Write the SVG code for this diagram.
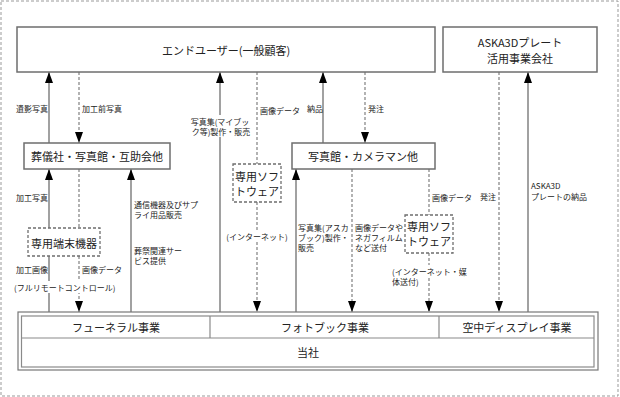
<svg xmlns="http://www.w3.org/2000/svg" width="620" height="397" viewBox="0 0 620 397">
<defs>
<style>
.frame{fill:none;stroke:#999;stroke-width:1;stroke-dasharray:3 2}
.box{fill:#fff;stroke:#6e6e6e;stroke-width:1.5}
.dbox{fill:#fff;stroke:#6e6e6e;stroke-width:1.3;stroke-dasharray:3 2}
.solid{fill:none;stroke:#8a8a8a;stroke-width:1.6}
.dash{fill:none;stroke:#8a8a8a;stroke-width:1.3;stroke-dasharray:3 2}
.inner{fill:none;stroke:#8a8a8a;stroke-width:1.2}
text{font-family:"Noto Sans CJK JP","Noto Sans",sans-serif;fill:#222;dominant-baseline:central}
.big{font-size:11px}
.sm{font-size:8px}
.c{text-anchor:middle}
.e{text-anchor:end}
.bg{fill:#fff}
</style>
<marker id="ah" viewBox="0 0 11 8" refX="11" refY="4" markerWidth="11" markerHeight="8" markerUnits="userSpaceOnUse" orient="auto">
<path d="M0,0 L11,4 L0,8 z" fill="#000"/>
</marker>
</defs>
<rect class="frame" x="1" y="1" width="617" height="395"/>

<g id="connectors">
<path class="solid" d="M49,143 V72" marker-end="url(#ah)"/>
<path class="dash" d="M79,72 V143" marker-end="url(#ah)"/>
<path class="solid" d="M220,312 V72" marker-end="url(#ah)"/>
<path class="dash" d="M257,72 V164"/>
<path class="dash" d="M257,202 V312" marker-end="url(#ah)"/>
<path class="solid" d="M323,143 V72" marker-end="url(#ah)"/>
<path class="dash" d="M365,72 V143" marker-end="url(#ah)"/>
<path class="dash" d="M499,72 V312" marker-end="url(#ah)"/>
<path class="solid" d="M528,312 V72" marker-end="url(#ah)"/>
<path class="solid" d="M49,228 V169" marker-end="url(#ah)"/>
<path class="dash" d="M79,169 V228"/>
<path class="solid" d="M49,312 V256"/>
<path class="dash" d="M79,256 V312" marker-end="url(#ah)"/>
<path class="solid" d="M131,312 V169" marker-end="url(#ah)"/>
<path class="solid" d="M296,312 V169" marker-end="url(#ah)"/>
<path class="dash" d="M352,169 V312" marker-end="url(#ah)"/>
<path class="dash" d="M429,169 V215"/>
<path class="dash" d="M429,253 V312" marker-end="url(#ah)"/>
</g>

<g id="connector-labels" class="sm">
<text class="sm" x="16" y="108">遺影写真</text>
<text class="sm" x="82" y="108">加工前写真</text>
<rect class="bg" x="189" y="115" width="62" height="22"/>
<text class="sm c" x="220" y="121">写真集(マイブッ</text>
<text class="sm c" x="221" y="131">ク等)製作・販売</text>
<text class="sm" x="260" y="110">画像データ</text>
<text class="sm" x="307" y="108">納品</text>
<text class="sm" x="368" y="108">発注</text>
<rect class="bg" x="226" y="230" width="64" height="12"/>
<text class="sm c" x="257" y="236">(インターネット)</text>
<text class="sm e" x="496" y="196">発注</text>
<text class="sm" x="531" y="185">ASKA3D</text>
<text class="sm" x="531" y="196">プレートの納品</text>
<text class="sm" x="16" y="197">加工写真</text>
<text class="sm" x="16" y="269">加工画像</text>
<text class="sm" x="82" y="269">画像データ</text>
<rect class="bg" x="13" y="281" width="104" height="12"/>
<text class="sm" x="14" y="287">(フルリモートコントロール)</text>
<text class="sm" x="134" y="204">通信機器及びサプ</text>
<text class="sm" x="134" y="214">ライ用品販売</text>
<text class="sm" x="134" y="250">葬祭関連サー</text>
<text class="sm" x="134" y="260">ビス提供</text>
<text class="sm" x="298" y="227">写真集(アスカ</text>
<text class="sm" x="298" y="237">ブック)製作・</text>
<text class="sm" x="298" y="247">販売</text>
<text class="sm" x="355" y="227">画像データや</text>
<text class="sm" x="355" y="237">ネガフィルム</text>
<text class="sm" x="355" y="247">など送付</text>
<text class="sm" x="432" y="197">画像データ</text>
<rect class="bg" x="391" y="265" width="78" height="12"/>
<text class="sm" x="392" y="271">(インターネット・媒</text>
<text class="sm" x="392" y="281">体送付)</text>
</g>

<g id="end-user">
<rect class="box" x="17" y="27" width="418" height="45"/>
<text class="big c" x="226" y="50">エンドユーザー(一般顧客)</text>
</g>
<g id="aska-company">
<rect class="box" x="443" y="27" width="154" height="45"/>
<text class="big c"><tspan x="520" y="42">ASKA3Dプレート</tspan><tspan x="520" y="58">活用事業会社</tspan></text>
</g>
<g id="funeral-partners">
<rect class="box" x="24" y="143" width="146" height="26"/>
<text class="big c" x="97" y="156">葬儀社・写真館・互助会他</text>
</g>
<g id="photo-studios">
<rect class="box" x="292" y="143" width="143" height="26"/>
<text class="big c" x="363" y="156">写真館・カメラマン他</text>
</g>
<g id="terminal">
<rect class="dbox" x="28" y="228" width="72" height="28"/>
<text class="big c" x="64" y="243">専用端末機器</text>
</g>
<g id="software-1">
<rect class="dbox" x="233" y="164" width="48" height="38"/>
<text class="big c"><tspan x="257" y="176">専用ソフ</tspan><tspan x="257" y="191">トウェア</tspan></text>
</g>
<g id="software-2">
<rect class="dbox" x="405" y="215" width="48" height="38"/>
<text class="big c"><tspan x="429" y="226">専用ソフ</tspan><tspan x="429" y="241">トウェア</tspan></text>
</g>
<g id="company">
<rect x="18" y="312" width="580" height="58" fill="#fff" stroke="#777" stroke-width="1.2"/>
<rect class="inner" x="21.5" y="316" width="572.5" height="51"/>
<path class="inner" d="M21.5,338 H594 M210,316 V338 M439,316 V338"/>
<text class="big c" x="116" y="327">フューネラル事業</text>
<text class="big c" x="325" y="327">フォトブック事業</text>
<text class="big c" x="517" y="327">空中ディスプレイ事業</text>
<text class="big c" x="308" y="352">当社</text>
</g>
</svg>
